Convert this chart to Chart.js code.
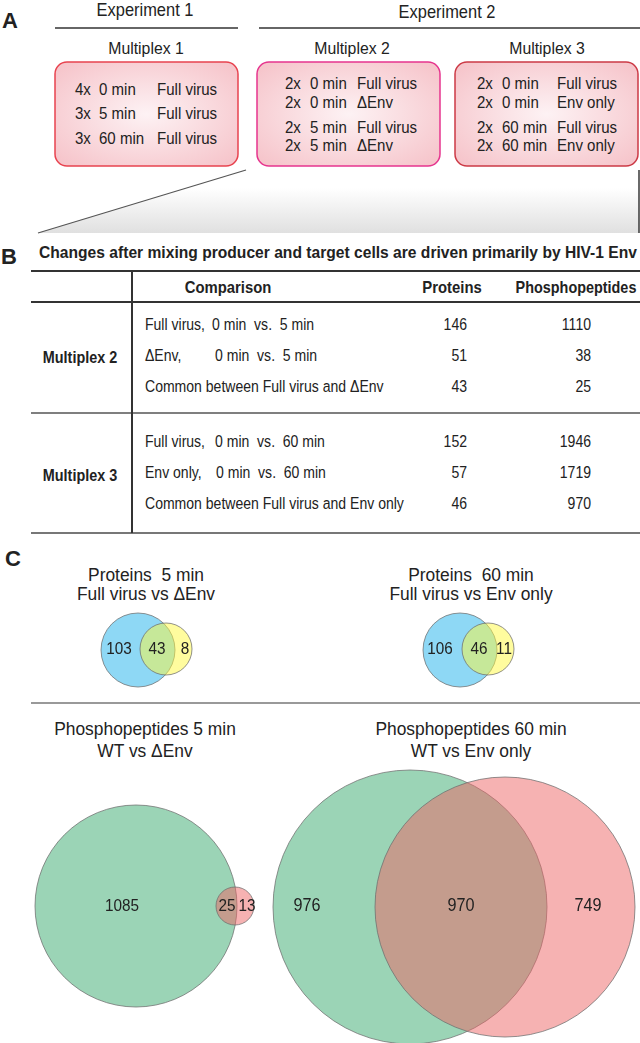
<!DOCTYPE html>
<html lang="en">
<head>
<meta charset="UTF-8">
<title>Env driven changes</title>
<script src="https://cdn.jsdelivr.net/npm/chart.js"></script>
<style>
  html, body { margin: 0; padding: 0; background: #fff; overflow: hidden; }
  #wrap { position: relative; width: 640px; height: 1043px; }
  #fig, #venn { position: absolute; left: 0; top: 0; }
  text { font-family: "Liberation Sans", Arial, Helvetica, sans-serif; fill: #222; white-space: pre; }
</style>
</head>
<body>
<div id="wrap">
<svg id="fig" width="640" height="1043" viewBox="0 0 640 1043">
  <defs>
    <radialGradient id="boxFill" cx="50%" cy="50%" r="65%">
      <stop offset="0" stop-color="#fdf2f4"/>
      <stop offset="1" stop-color="#f6c5cb"/>
    </radialGradient>
    <linearGradient id="zoomFill" gradientUnits="userSpaceOnUse" x1="0" y1="188" x2="0" y2="233">
      <stop offset="0" stop-color="#ffffff"/>
      <stop offset="1" stop-color="#e0e0e0"/>
    </linearGradient>
  </defs>
  <g id="panelA"></g>
  <g id="panelB"></g>
  <g id="panelC"></g>
</svg>
<canvas id="venn" width="640" height="1043"></canvas>
</div>

<script>
// ---- panel A : experiment design ----
var experiments = ['Experiment 1', 'Experiment 2']
var multiplexNames = ['Multiplex 1', 'Multiplex 2', 'Multiplex 3']
var multiplexRows = [
  [['4x', '0 min', 'Full virus'], ['3x', '5 min', 'Full virus'], ['3x', '60 min', 'Full virus']],
  [['2x', '0 min', 'Full virus'], ['2x', '0 min', '\u0394Env'], ['2x', '5 min', 'Full virus'], ['2x', '5 min', '\u0394Env']],
  [['2x', '0 min', 'Full virus'], ['2x', '0 min', 'Env only'], ['2x', '60 min', 'Full virus'], ['2x', '60 min', 'Env only']]
]

// ---- panel B : table ----
var tableTitle = 'Changes after mixing producer and target cells are driven primarily by HIV-1 Env'
var tableHeader = ['Comparison', 'Proteins', 'Phosphopeptides']
var groupNames = ['Multiplex 2', 'Multiplex 3']
var rowLabels = ['Full virus,', '\u0394Env,', 'Common between Full virus and \u0394Env',
                 'Full virus,', 'Env only,', 'Common between Full virus and Env only']
var rowTimes = ['0 min  vs.  5 min', '0 min  vs.  5 min', '',
                '0 min  vs.  60 min', '0 min  vs.  60 min', '']
var proteinCounts = [146, 51, 43, 152, 57, 46]
var phosphoCounts = [1110, 38, 25, 1946, 1719, 970]

// ---- panel C : venn diagrams ----
var vennTitles = [
  ['Proteins  5 min', 'Full virus vs \u0394Env'],
  ['Proteins  60 min', 'Full virus vs Env only'],
  ['Phosphopeptides 5 min', 'WT vs \u0394Env'],
  ['Phosphopeptides 60 min', 'WT vs Env only']
]
var vennCounts = [
  [103, 43, 8],
  [106, 46, 11],
  [1085, 25, 13],
  [976, 970, 749]
]
// circles: centre and radius in venn units
var vennCircles = [
  [{x: 138, y: 650, r: 37}, {x: 166, y: 649, r: 26}],
  [{x: 460, y: 650, r: 37}, {x: 488, y: 649, r: 26}],
  [{x: 136, y: 906, r: 101}, {x: 235, y: 906, r: 19}],
  [{x: 410, y: 907, r: 137}, {x: 505, y: 907, r: 130}]
]

var NS = 'http://www.w3.org/2000/svg'
function el(parent, tag, attrs, txt) {
  var e = document.createElementNS(NS, tag)
  for (var k in attrs) e.setAttribute(k, attrs[k])
  if (txt !== undefined) e.textContent = txt
  parent.appendChild(e)
  return e
}
// text placed at (x,y), optionally squeezed horizontally
function label(parent, x, y, txt, size, opts) {
  opts = opts || {}
  var sx = opts.sx || 1
  var a = {x: 0, y: 0, 'font-size': size, 'dominant-baseline': 'central',
           transform: 'translate(' + x + ',' + y + ') scale(' + sx + ',1)'}
  if (opts.anchor) a['text-anchor'] = opts.anchor
  if (opts.bold) a['font-weight'] = 'bold'
  if (opts.len) { a.textLength = opts.len / sx; a.lengthAdjust = 'spacingAndGlyphs' }
  return el(parent, 'text', a, txt)
}

// panel A
var A = document.getElementById('panelA')
label(A, 2, 20, 'A', 22, {bold: true})
label(A, 145, 10, experiments[0], 17.5, {anchor: 'middle', sx: 0.94})
label(A, 447, 12, experiments[1], 17.5, {anchor: 'middle', sx: 0.94})
el(A, 'line', {x1: 55, y1: 28, x2: 238, y2: 28, stroke: '#333', 'stroke-width': 1.6})
el(A, 'line', {x1: 259, y1: 28, x2: 640, y2: 28, stroke: '#333', 'stroke-width': 1.6})

var boxX = [55, 257, 455]
var boxW = [183, 183, 183]
var boxStroke = ['#e8434f', '#e6358e', '#cc3a46']
var nameX = [146, 352, 547]
var colX = [[75, 99, 157], [285, 310, 357], [477, 502, 557]]
var rowY = [[89, 113, 138], [83, 102, 127, 145], [83, 102, 127, 145]]
for (var i = 0; i < 3; i++) {
  label(A, nameX[i], 48, multiplexNames[i], 17, {anchor: 'middle', sx: 0.93})
  el(A, 'rect', {x: boxX[i], y: 62, width: boxW[i], height: 104, rx: 12, ry: 12,
                 fill: 'url(#boxFill)', stroke: boxStroke[i], 'stroke-width': 1.5})
  multiplexRows[i].forEach(function (r, j) {
    r.forEach(function (s, k) { label(A, colX[i][k], rowY[i][j], s, 16, {sx: 0.94}) })
  })
}
el(A, 'polygon', {points: '246,170 639,170 639,233 38,233', fill: 'url(#zoomFill)'})
el(A, 'line', {x1: 246, y1: 170, x2: 38, y2: 233, stroke: '#555', 'stroke-width': 1.2})
el(A, 'line', {x1: 639, y1: 170, x2: 639, y2: 233, stroke: '#444', 'stroke-width': 1.6})

// panel B
var B = document.getElementById('panelB')
label(B, 1, 256, 'B', 22, {bold: true})
label(B, 39, 252, tableTitle, 17, {bold: true, len: 598, sx: 0.92})
el(B, 'line', {x1: 31, y1: 271, x2: 640, y2: 271, stroke: '#333', 'stroke-width': 2})
el(B, 'line', {x1: 31, y1: 302, x2: 640, y2: 302, stroke: '#333', 'stroke-width': 2})
el(B, 'line', {x1: 31, y1: 413, x2: 640, y2: 413, stroke: '#555', 'stroke-width': 1.5})
el(B, 'line', {x1: 31, y1: 533, x2: 640, y2: 533, stroke: '#777', 'stroke-width': 2})
el(B, 'line', {x1: 132, y1: 271, x2: 132, y2: 533, stroke: '#333', 'stroke-width': 2})
label(B, 228, 287, tableHeader[0], 16.5, {anchor: 'middle', bold: true, sx: 0.9})
label(B, 452, 287, tableHeader[1], 16.5, {anchor: 'middle', bold: true, sx: 0.9})
label(B, 576, 287, tableHeader[2], 16, {anchor: 'middle', bold: true, sx: 0.9})
label(B, 80, 357, groupNames[0], 16, {anchor: 'middle', bold: true, sx: 0.9})
label(B, 80, 475, groupNames[1], 16, {anchor: 'middle', bold: true, sx: 0.9})
var tableRowY = [325, 356, 387, 442, 473, 504]
var timeX = [212, 215, 0, 215, 216, 0]
for (var r = 0; r < 6; r++) {
  label(B, 145, tableRowY[r], rowLabels[r], 15.6, {sx: 0.9})
  if (rowTimes[r]) label(B, timeX[r], tableRowY[r], rowTimes[r], 15.6, {sx: 0.9})
  label(B, 467, tableRowY[r], String(proteinCounts[r]), 15.6, {anchor: 'end', sx: 0.9})
  label(B, 591, tableRowY[r], String(phosphoCounts[r]), 15.6, {anchor: 'end', sx: 0.9})
}

// panel C text
var C = document.getElementById('panelC')
label(C, 5, 558, 'C', 22, {bold: true})
var titleX = [146, 471, 145, 471]
var titleY = [[575, 594], [575, 594], [729, 751], [729, 751]]
vennTitles.forEach(function (t, i) {
  label(C, titleX[i], titleY[i][0], t[0], 18.5, {anchor: 'middle', sx: 0.94})
  label(C, titleX[i], titleY[i][1], t[1], 18.5, {anchor: 'middle', sx: 0.94})
})
el(C, 'line', {x1: 31, y1: 703, x2: 640, y2: 703, stroke: '#777', 'stroke-width': 1.5})

// venn circles with Chart.js
var vennFills = [
  ['rgba(29,177,235,0.5)', 'rgba(255,249,61,0.5)'],
  ['rgba(29,177,235,0.5)', 'rgba(255,249,61,0.5)'],
  ['rgba(55,169,109,0.5)', 'rgba(237,101,101,0.5)'],
  ['rgba(55,169,109,0.5)', 'rgba(237,101,101,0.5)']
]
var labelX = [[119, 157, 185], [440, 479, 504], [122, 227, 247], [307, 461, 588]]
var labelY = [648, 648, 905, 905]
var labelSize = [17, 17, 17, 18]

var points = [], fills = []
vennCircles.forEach(function (pair, i) {
  pair.forEach(function (c, j) { points.push(c); fills.push(vennFills[i][j]) })
})

var countLabels = {
  id: 'countLabels',
  afterDatasetsDraw: function (chart) {
    var ctx = chart.ctx, sx = chart.scales.x, sy = chart.scales.y
    vennCounts.forEach(function (counts, i) {
      counts.forEach(function (n, j) {
        ctx.save()
        ctx.translate(sx.getPixelForValue(labelX[i][j]), sy.getPixelForValue(labelY[i]) + 1)
        ctx.scale(0.9, 1)
        ctx.fillStyle = '#222'
        ctx.font = labelSize[i] + 'px "Liberation Sans", Arial, sans-serif'
        ctx.textAlign = 'center'
        ctx.textBaseline = 'middle'
        ctx.fillText(String(n), 0, 0)
        ctx.restore()
      })
    })
  }
}

var venn = new Chart(document.getElementById('venn'), {
  type: 'scatter',
  data: {
    datasets: [{
      data: points,
      backgroundColor: fills,
      borderColor: 'rgba(110,110,110,0.75)',
      borderWidth: 1,
      pointRadius: function (c) {
        var s = c.chart.scales.x
        if (!s || !c.raw) return 0
        return Math.abs(s.getPixelForValue(c.raw.r) - s.getPixelForValue(0))
      },
      clip: false
    }]
  },
  options: {
    responsive: false,
    animation: false,
    events: [],
    layout: { padding: 0 },
    plugins: { legend: { display: false }, tooltip: { enabled: false } },
    scales: {
      x: { type: 'linear', min: 0, max: 640, display: false },
      y: { type: 'linear', min: 0, max: 1043, reverse: true, display: false }
    }
  },
  plugins: [countLabels]
})
</script>
</body>
</html>
